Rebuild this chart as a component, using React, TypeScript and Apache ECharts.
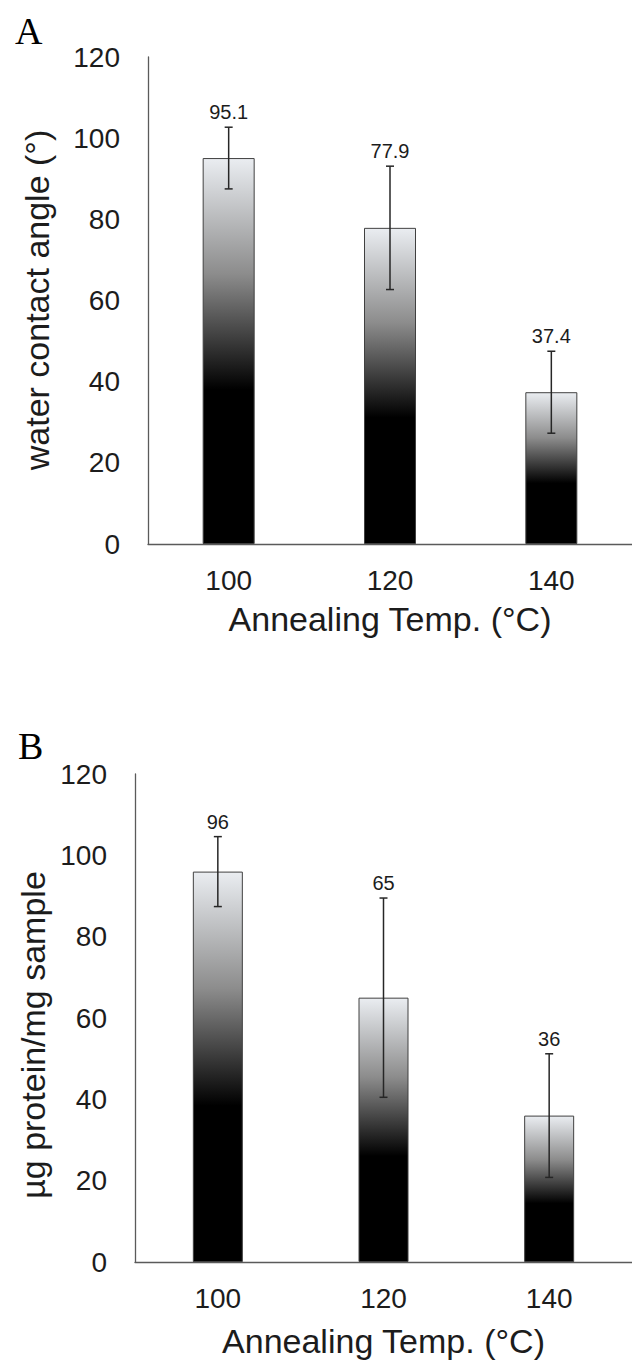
import React, { useEffect, useRef } from "react";
import * as echarts from "echarts";

const categories = ["100", "120", "140"];
const contactAngle = [95.1, 77.9, 37.4];
const contactAngleErr = [7.6, 15.2, 10.1];
const protein = [96, 65, 36];
const proteinErr = [8.6, 24.5, 15.2];
const yMin = 0;
const yMax = 120;
const yInterval = 20;

const FONT = "'Liberation Sans', Arial, sans-serif";
const SERIF = "'Liberation Serif', 'Times New Roman', serif";
const TEXT = "#1c1c1c";
const AXIS = "#5a5a5a";

const barFill = () =>
  new echarts.graphic.LinearGradient(0, 0, 0, 1, [
    { offset: 0, color: "#eaedf1" },
    { offset: 0.3, color: "#8c8c8c" },
    { offset: 0.6, color: "#000000" },
    { offset: 1, color: "#000000" },
  ]);

const errRender = (params: any, api: any) => {
  const x = api.value(0);
  const v = api.value(1);
  const e = api.value(2);
  const top = api.coord([x, v + e]);
  const bot = api.coord([x, v - e]);
  const cap = 4;
  const st = { stroke: "#262626", lineWidth: 1.5 };
  return {
    type: "group",
    children: [
      { type: "line", shape: { x1: top[0], y1: top[1], x2: bot[0], y2: bot[1] }, style: st },
      { type: "line", shape: { x1: top[0] - cap, y1: top[1], x2: top[0] + cap, y2: top[1] }, style: st },
      { type: "line", shape: { x1: bot[0] - cap, y1: bot[1], x2: bot[0] + cap, y2: bot[1] }, style: st },
      {
        type: "text",
        x: top[0],
        y: top[1] - 15,
        style: {
          text: String(v),
          align: "center",
          verticalAlign: "middle",
          fontSize: 20,
          fontFamily: FONT,
          fill: TEXT,
        },
      },
    ],
  };
};

const makeX = (gridIndex: number, nameGap: number) => ({
  type: "category",
  gridIndex,
  data: categories,
  name: "Annealing Temp. (°C)",
  nameLocation: "middle",
  nameGap,
  nameTextStyle: { fontSize: 34, fontFamily: FONT, color: TEXT },
  axisLine: { show: true, lineStyle: { color: AXIS, width: 1.3 } },
  axisTick: { show: false },
  axisLabel: { fontSize: 28, fontFamily: FONT, color: TEXT, margin: 22 },
});

const makeY = (gridIndex: number) => ({
  type: "value",
  gridIndex,
  min: yMin,
  max: yMax,
  interval: yInterval,
  axisLine: { show: true, lineStyle: { color: AXIS, width: 1.3 } },
  axisTick: { show: false },
  splitLine: { show: false },
  axisLabel: { fontSize: 28, fontFamily: FONT, color: TEXT, margin: 28 },
});

export default function App() {
  const ref = useRef<HTMLDivElement>(null);
  useEffect(() => {
    if (!ref.current) return;
    const chart = echarts.init(ref.current, undefined, { renderer: "svg" });
    chart.setOption({
      animation: false,
      backgroundColor: "#ffffff",
      grid: [
        { left: 148, top: 57, width: 492, height: 487 },
        { left: 135, top: 774, width: 510, height: 488 },
      ],
      xAxis: [makeX(0, 58), makeX(1, 62)],
      yAxis: [makeY(0), makeY(1)],
      graphic: [
        {
          type: "text",
          left: 15,
          top: 12,
          style: { text: "A", fontSize: 38, fontFamily: SERIF, fill: "#000" },
        },
        {
          type: "text",
          left: 18,
          top: 727,
          style: { text: "B", fontSize: 38, fontFamily: SERIF, fill: "#000" },
        },
        {
          type: "text",
          x: 37,
          y: 300,
          rotation: Math.PI / 2,
          style: {
            text: "water contact angle (°)",
            align: "center",
            verticalAlign: "middle",
            fontSize: 34,
            fontFamily: FONT,
            fill: TEXT,
          },
        },
        {
          type: "text",
          x: 33,
          y: 1035,
          rotation: Math.PI / 2,
          style: {
            text: "µg protein/mg sample",
            align: "center",
            verticalAlign: "middle",
            fontSize: 34,
            fontFamily: FONT,
            fill: TEXT,
          },
        },
      ],
      series: [
        {
          type: "bar",
          xAxisIndex: 0,
          yAxisIndex: 0,
          data: contactAngle,
          barWidth: 52,
          itemStyle: { color: barFill(), borderColor: "#404040", borderWidth: 1 },
        },
        {
          type: "custom",
          xAxisIndex: 0,
          yAxisIndex: 0,
          data: categories.map((c, i) => [i, contactAngle[i], contactAngleErr[i]]),
          encode: { x: 0, y: 1 },
          renderItem: errRender,
          z: 5,
        },
        {
          type: "bar",
          xAxisIndex: 1,
          yAxisIndex: 1,
          data: protein,
          barWidth: 50,
          itemStyle: { color: barFill(), borderColor: "#404040", borderWidth: 1 },
        },
        {
          type: "custom",
          xAxisIndex: 1,
          yAxisIndex: 1,
          data: categories.map((c, i) => [i, protein[i], proteinErr[i]]),
          encode: { x: 0, y: 1 },
          renderItem: errRender,
          z: 5,
        },
      ],
    });
    return () => chart.dispose();
  }, []);
  return (
    <div
      ref={ref}
      style={{ position: "absolute", left: 0, top: 0, width: 632, height: 1360 }}
    />
  );
}
